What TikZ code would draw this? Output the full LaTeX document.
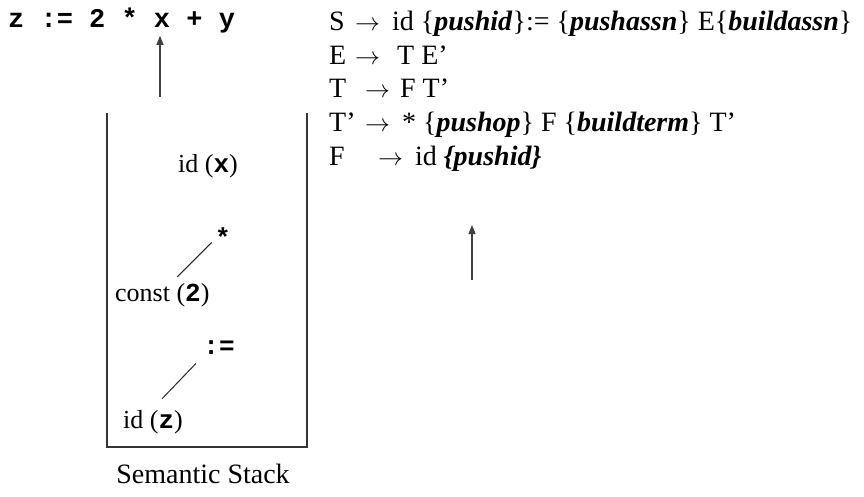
\documentclass[tikz,border=0pt]{standalone}
\usepackage{fontspec}
\setmainfont{Liberation Serif}
\setmonofont{Liberation Mono}
\usetikzlibrary{arrows.meta,calc}

\newcommand\fsz[1]{\fontsize{#1}{#1}\selectfont}
\newcommand\act[1]{\textbf{\textit{#1}}}
\newcommand\cd[1]{\texttt{\textbf{#1}}}
\newcommand\lhs[2]{\makebox[#1][l]{#2}}
\newcommand\goes[1]{\makebox[#1][l]{$\rightarrow$}}

\begin{document}
\begin{tikzpicture}[x=1pt,y=-1pt,>={Triangle[length=9pt,width=7pt]},
  rule/.style={font=\fsz{28},anchor=base west,inner sep=0pt},
  stk/.style={font=\fsz{26}},
  wall/.style={draw=black!80,line width=1.4pt},
  ptr/.style={->,draw=black!75,line width=1.2pt}]
  \useasboundingbox (0,0) rectangle (864,497);
  % the input, with the scan position
  \node[font=\fsz{27}\ttfamily\bfseries,anchor=base west,inner sep=2pt] (code) at (6,28) {z := 2 * x + y};
  \coordinate (ptr1) at (160,97);
  \draw[ptr] (ptr1) -- (ptr1 |- code.south);
  % the grammar with its actions
  \node[rule] (r1) at (329,31) {\lhs{26pt}{S}\goes{37pt}id \{\act{pushid}\}:= \{\act{pushassn}\} E\{\act{buildassn}\}};
  \node[rule] (r2) at (329,65) {\lhs{26pt}{E}\goes{42pt}T E’};
  \node[rule] (r3) at (329,98) {\lhs{36pt}{T}\goes{35pt}F T’};
  \node[rule] (r4) at (329,132) {\lhs{36pt}{T’}\goes{37pt}* \{\act{pushop}\} F \{\act{buildterm}\} T’};
  \node[rule] (r5) at (329,166) {\lhs{49pt}{F}\goes{37pt}id \act{\{pushid\}}};
  \coordinate (ptr2) at (472,280);
  \coordinate (ptr2tip) at (472,225);
  \draw[ptr] (ptr2) -- (ptr2tip);
  % the semantic stack, open at the top
  \draw[wall] (107,113) -- (107,447) -- (307,447) -- (307,113);
  \node[stk,anchor=base] (idx) at (208,172) {id (\cd{x})};
  \node[stk,anchor=base] (star) at (223,246) {\cd{*}};
  \node[stk,anchor=base west,inner sep=0pt] (const) at (115,301) {const (\cd{2})};
  \node[stk,anchor=base] (assign) at (219,354) {\cd{:=}};
  \node[stk,anchor=base west,inner sep=0pt] (idz) at (123,428) {id (\cd{z})};
  \draw[black!85,line width=1pt] ($(star.south west)+(0,-7)$) -- ($(const.north)+(15,-6)$);
  \draw[black!85,line width=1pt] ($(assign.south west)+(-4,6)$) -- ($(idz.north)+(9,-11)$);
  \node[font=\fsz{28},anchor=base] (cap) at (203,483) {Semantic Stack};
\end{tikzpicture}
\end{document}
